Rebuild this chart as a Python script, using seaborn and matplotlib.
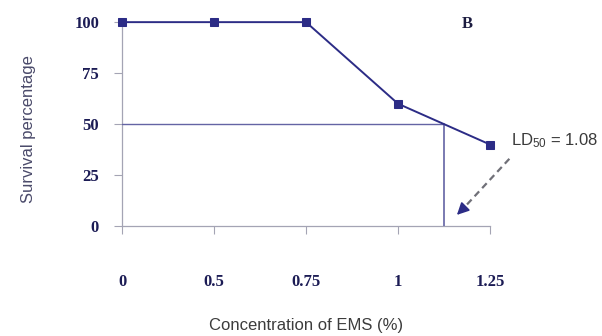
import numpy as np
import pandas as pd
import matplotlib
matplotlib.use("Agg")
import matplotlib.pyplot as plt
import seaborn as sns

# EMS dose-response data
concentrations = ["0", "0.5", "0.75", "1", "1.25"]
survival = [100, 100, 100, 60, 40]
y_ticks = [0, 25, 50, 75, 100]
ld50_label = "1.08"

sns.set_theme(style="white")
plt.rcParams["font.family"] = ["Liberation Sans", "DejaVu Sans"]
plt.rcParams["mathtext.fontset"] = "custom"
plt.rcParams["mathtext.rm"] = "Liberation Sans"
plt.rcParams["mathtext.it"] = "Liberation Sans"

df = pd.DataFrame({"pos": np.arange(len(concentrations)),
                   "conc": concentrations,
                   "survival": survival})

fig = plt.figure(figsize=(6.02, 3.36), dpi=100)
ax = fig.add_axes([0.2027, 0.327, 0.6113, 0.6071])

line_col = "#2c2c86"
guide_col = "#6464a4"
spine_col = "#a4a4b4"
tick_col = "#1c1c55"

sns.lineplot(data=df, x="pos", y="survival", ax=ax, color=line_col,
             linewidth=1.4, marker="s", markersize=5.5,
             markeredgecolor=line_col, markerfacecolor=line_col,
             clip_on=False, zorder=5)

# LD50 guide lines: where survival crosses 50 between the last two doses
i = 3
x50 = i + (survival[i] - 50) / (survival[i] - survival[i + 1])
ax.plot([0, x50], [50, 50], color=guide_col, linewidth=1.0, zorder=3)
ax.plot([x50, x50], [0, 50], color=guide_col, linewidth=1.2, zorder=3)

ax.set_xlim(0, len(concentrations) - 1)
ax.set_ylim(0, 100)
ax.set_xticks(df["pos"])
ax.set_xticklabels(concentrations)
ax.set_yticks(y_ticks)
ax.set_yticklabels([str(v) for v in y_ticks])

for lab in ax.get_xticklabels() + ax.get_yticklabels():
    lab.set_family(["Liberation Serif", "DejaVu Serif"])
    lab.set_fontweight("bold")
    lab.set_fontsize(12)
    lab.set_color(tick_col)

ax.tick_params(axis="x", direction="out", length=6, width=0.8,
               color=spine_col, pad=28.5, bottom=True)
ax.tick_params(axis="y", direction="out", length=6, width=0.8,
               color=spine_col, pad=10.5, left=True)

for side in ["top", "right"]:
    ax.spines[side].set_visible(False)
for side in ["left", "bottom"]:
    ax.spines[side].set_color(spine_col)
    ax.spines[side].set_linewidth(0.9)

ax.set_xlabel("Concentration of EMS (%)", fontsize=12, color="#3c3c3c")
ax.set_ylabel("Survival percentage", fontsize=12, color="#4a4a6a")
ax.xaxis.set_label_coords(0.5, -0.45)
ax.yaxis.set_label_coords(-0.234, 0.478)

# panel letter
ax.text(3.69, 99, "B", fontsize=12, fontweight="bold", color="#1c1c40",
        family=["Liberation Serif", "DejaVu Serif"], va="center", ha="left",
        clip_on=False)

# LD50 annotation with a dashed arrow pointing at the guide line
ax.text(4.23, 42, r"LD$_{50}$ = " + ld50_label, fontsize=12, color="#3a3a3a",
        va="center", ha="left", clip_on=False)
tail = (4.21, 33.0)
head = (3.64, 5.5)
ax.plot([tail[0], 3.70], [tail[1], 8.2], color="#707078", linewidth=1.6,
        linestyle=(0, (3, 2)), clip_on=False, zorder=4)
ax.annotate("", xy=head, xytext=(3.70, 8.2),
            arrowprops=dict(arrowstyle="-|>,head_length=0.6,head_width=0.3",
                            color=line_col, lw=1.2, shrinkA=0, shrinkB=0),
            annotation_clip=False, zorder=4)

fig.savefig("out.png", dpi=100)
